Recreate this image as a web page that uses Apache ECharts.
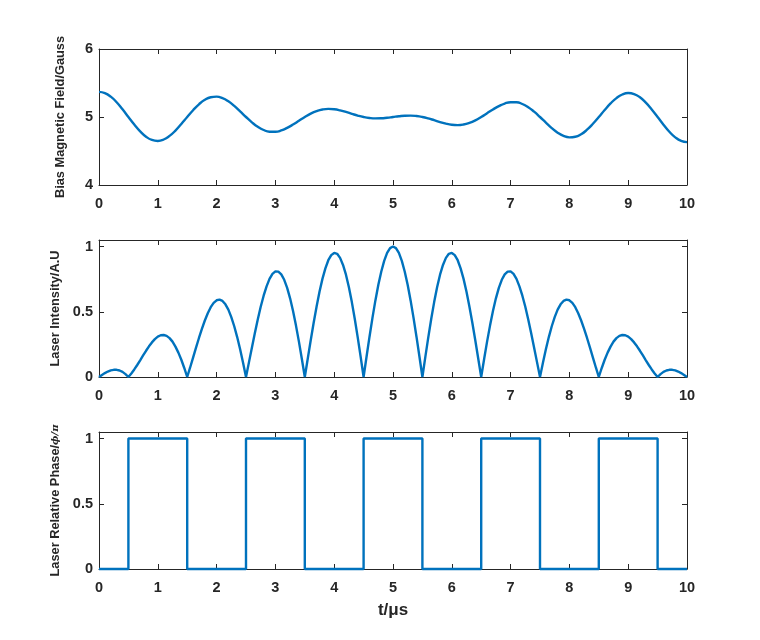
<!DOCTYPE html>
<html>
<head>
<meta charset="utf-8">
<script src="https://cdn.jsdelivr.net/npm/echarts@6/dist/echarts.min.js"></script>
<style>html,body{margin:0;padding:0;background:#fff}#c{width:760px;height:640px}</style>
</head>
<body>
<div id="c"></div>
<script>
// ---- data ----
const xTicks = [0,1,2,3,4,5,6,7,8,9,10];
const fieldStep = 0.1;   // sample spacing of the bias-field trace (µs)
const fieldValues = [
5.370,5.352,5.299,5.217,5.113,5.000,4.888,4.788,4.710,4.662,
4.648,4.669,4.722,4.800,4.897,5.000,5.100,5.187,5.253,5.291,
5.299,5.278,5.231,5.163,5.083,5.000,4.922,4.856,4.809,4.784,
4.783,4.802,4.840,4.889,4.945,5.000,5.049,5.086,5.110,5.119,
5.114,5.098,5.074,5.047,5.021,5.000,4.986,4.980,4.981,4.989,
5.000,5.011,5.019,5.020,5.014,5.000,4.979,4.953,4.926,4.902,
4.886,4.881,4.890,4.914,4.951,5.000,5.055,5.111,5.160,5.198,
5.217,5.216,5.191,5.144,5.078,5.000,4.917,4.837,4.769,4.722,
4.701,4.709,4.747,4.813,4.900,5.000,5.103,5.200,5.278,5.331,
5.352,5.338,5.290,5.212,5.112,5.000,4.887,4.783,4.701,4.648,
4.630];
const intensityStep = 0.05; // sample spacing of the intensity trace (µs)
const intensityValues = [
0,0.016,0.030,0.042,0.051,0.055,0.055,0.050,0.039,0.022,
0,0.027,0.058,0.092,0.128,0.165,0.201,0.235,0.265,0.290,
0.309,0.320,0.322,0.315,0.298,0.271,0.233,0.187,0.132,0.069,
0,0.073,0.149,0.225,0.299,0.369,0.433,0.489,0.535,0.568,
0.588,0.593,0.583,0.557,0.516,0.459,0.389,0.306,0.212,0.109,
0,0.112,0.225,0.336,0.441,0.538,0.623,0.695,0.752,0.790,
0.809,0.808,0.787,0.745,0.683,0.603,0.506,0.394,0.271,0.138,
0,0.140,0.280,0.414,0.539,0.653,0.752,0.833,0.895,0.934,
0.951,0.944,0.913,0.859,0.784,0.688,0.574,0.445,0.304,0.154,
0,0.155,0.307,0.451,0.585,0.705,0.807,0.890,0.951,0.988,
1.000,
0.988,0.951,0.890,0.807,0.705,0.585,0.451,0.307,0.155,0,
0.154,0.304,0.445,0.574,0.688,0.784,0.859,0.913,0.944,0.951,
0.934,0.895,0.833,0.752,0.653,0.539,0.414,0.280,0.140,0,
0.138,0.271,0.394,0.506,0.603,0.683,0.745,0.787,0.808,0.809,
0.790,0.752,0.695,0.623,0.538,0.441,0.336,0.225,0.112,0,
0.109,0.212,0.306,0.389,0.459,0.516,0.557,0.583,0.593,0.588,
0.568,0.535,0.489,0.433,0.369,0.299,0.225,0.149,0.073,0,
0.069,0.132,0.187,0.233,0.271,0.298,0.315,0.322,0.320,0.309,
0.290,0.265,0.235,0.201,0.165,0.128,0.092,0.058,0.027,0,
0.022,0.039,0.050,0.055,0.055,0.051,0.042,0.030,0.016,0];
const phaseTimes  = [0,0.5,0.5,1.5,1.5,2.5,2.5,3.5,3.5,4.5,4.5,5.5,5.5,6.5,6.5,7.5,7.5,8.5,8.5,9.5,9.5,10];
const phaseValues = [0,0,  1,  1,  0,  0,  1,  1,  0,  0,  1,  1,  0,  0,  1,  1,  0,  0,  1,  1,  0,  0];
const yTicksField = [4,5,6];
const yTicksUnit = [0,0.5,1];
const yNames = ['Bias Magnetic Field/Gauss','Laser Intensity/A.U','Laser Relative Phase/'];
const xName = 't/μs';

// ---- chart ----
const AX = '#262626';
const LINE = '#0072BD';
const FONT = "'Liberation Sans', Arial, Helvetica, sans-serif";
const grids = [
  {left:99, right:73, top:49,  height:136},
  {left:99, right:73, top:240, height:137},
  {left:99, right:73, top:432, height:137}
];
const fieldData = fieldValues.map((v,i)=>[+(i*fieldStep).toFixed(3), v]);
const intensityData = intensityValues.map((v,i)=>[+(i*intensityStep).toFixed(3), v]);
const phaseData = phaseTimes.map((t,i)=>[t, phaseValues[i]]);

function labelFilter(ticks){
  return v => ticks.some(t=>Math.abs(t-v)<1e-6) ? String(+v.toFixed(2)) : '';
}
const xAxes = [], yAxes = [];
grids.forEach((g,i)=>{
  xAxes.push({
    type:'value', gridIndex:i, min:0, max:10, interval:1, position:'bottom',
    axisLine:{show:true,onZero:false,lineStyle:{color:AX,width:1}},
    axisTick:{show:true,inside:true,length:5,lineStyle:{color:AX}},
    axisLabel:{show:true,color:AX,fontSize:14.5,fontWeight:'bold',fontFamily:FONT,margin:11,
      formatter:labelFilter(xTicks)},
    splitLine:{show:false},
    name: i===2 ? xName : '',
    nameLocation:'middle', nameGap:33,
    nameTextStyle:{color:AX,fontSize:17,fontWeight:'bold',fontFamily:FONT}
  });
  xAxes.push({
    type:'value', gridIndex:i, min:0, max:10, interval:1, position:'top',
    axisLine:{show:true,onZero:false,lineStyle:{color:AX,width:1}},
    axisTick:{show:true,inside:true,length:5,lineStyle:{color:AX}},
    axisLabel:{show:false}, splitLine:{show:false}
  });
  const yt = i===0 ? yTicksField : yTicksUnit;
  const ymin = i===0 ? 4 : 0;
  const ymax = i===0 ? 6 : 1.05;
  const yint = i===0 ? 1 : 0.5;
  const nm = i===2
    ? '{a|'+yNames[2]+'}{b|ϕ/π}'
    : yNames[i];
  yAxes.push({
    type:'value', gridIndex:i, min:ymin, max:ymax, interval:yint, position:'left',
    axisLine:{show:true,onZero:false,lineStyle:{color:AX,width:1}},
    axisTick:{show:true,inside:true,length:5,lineStyle:{color:AX}},
    axisLabel:{show:true,color:AX,fontSize:14.5,fontWeight:'bold',fontFamily:FONT,margin:6,
      formatter:labelFilter(yt), showMaxLabel:true},
    splitLine:{show:false},
    name:nm, nameLocation:'middle', nameGap:32, nameRotate:90,
    nameTextStyle:{color:AX,fontSize:12.8,fontWeight:'bold',fontFamily:FONT,
      rich:{a:{color:AX,fontSize:12.8,fontWeight:'bold',fontFamily:FONT},
            b:{color:AX,fontSize:10,fontStyle:'italic',fontFamily:"'DejaVu Serif', serif"}}}
  });
  yAxes.push({
    type:'value', gridIndex:i, min:ymin, max:ymax, interval:yint, position:'right',
    axisLine:{show:true,onZero:false,lineStyle:{color:AX,width:1}},
    axisTick:{show:true,inside:true,length:5,lineStyle:{color:AX}},
    axisLabel:{show:false}, splitLine:{show:false}
  });
});

const chart = echarts.init(document.getElementById('c'), null, {renderer:'canvas'});
chart.setOption({
  animation:false,
  backgroundColor:'#fff',
  grid:grids,
  xAxis:xAxes,
  yAxis:yAxes,
  series:[
    {type:'line', xAxisIndex:0, yAxisIndex:0, data:fieldData, smooth:true, showSymbol:false, clip:false,
     lineStyle:{color:LINE,width:2.4}},
    {type:'line', xAxisIndex:2, yAxisIndex:2, data:intensityData, showSymbol:false, clip:false,
     lineStyle:{color:LINE,width:2.4}},
    {type:'line', xAxisIndex:4, yAxisIndex:4, data:phaseData, showSymbol:false, clip:false,
     lineStyle:{color:LINE,width:2.4}}
  ]
});
</script>
</body>
</html>
